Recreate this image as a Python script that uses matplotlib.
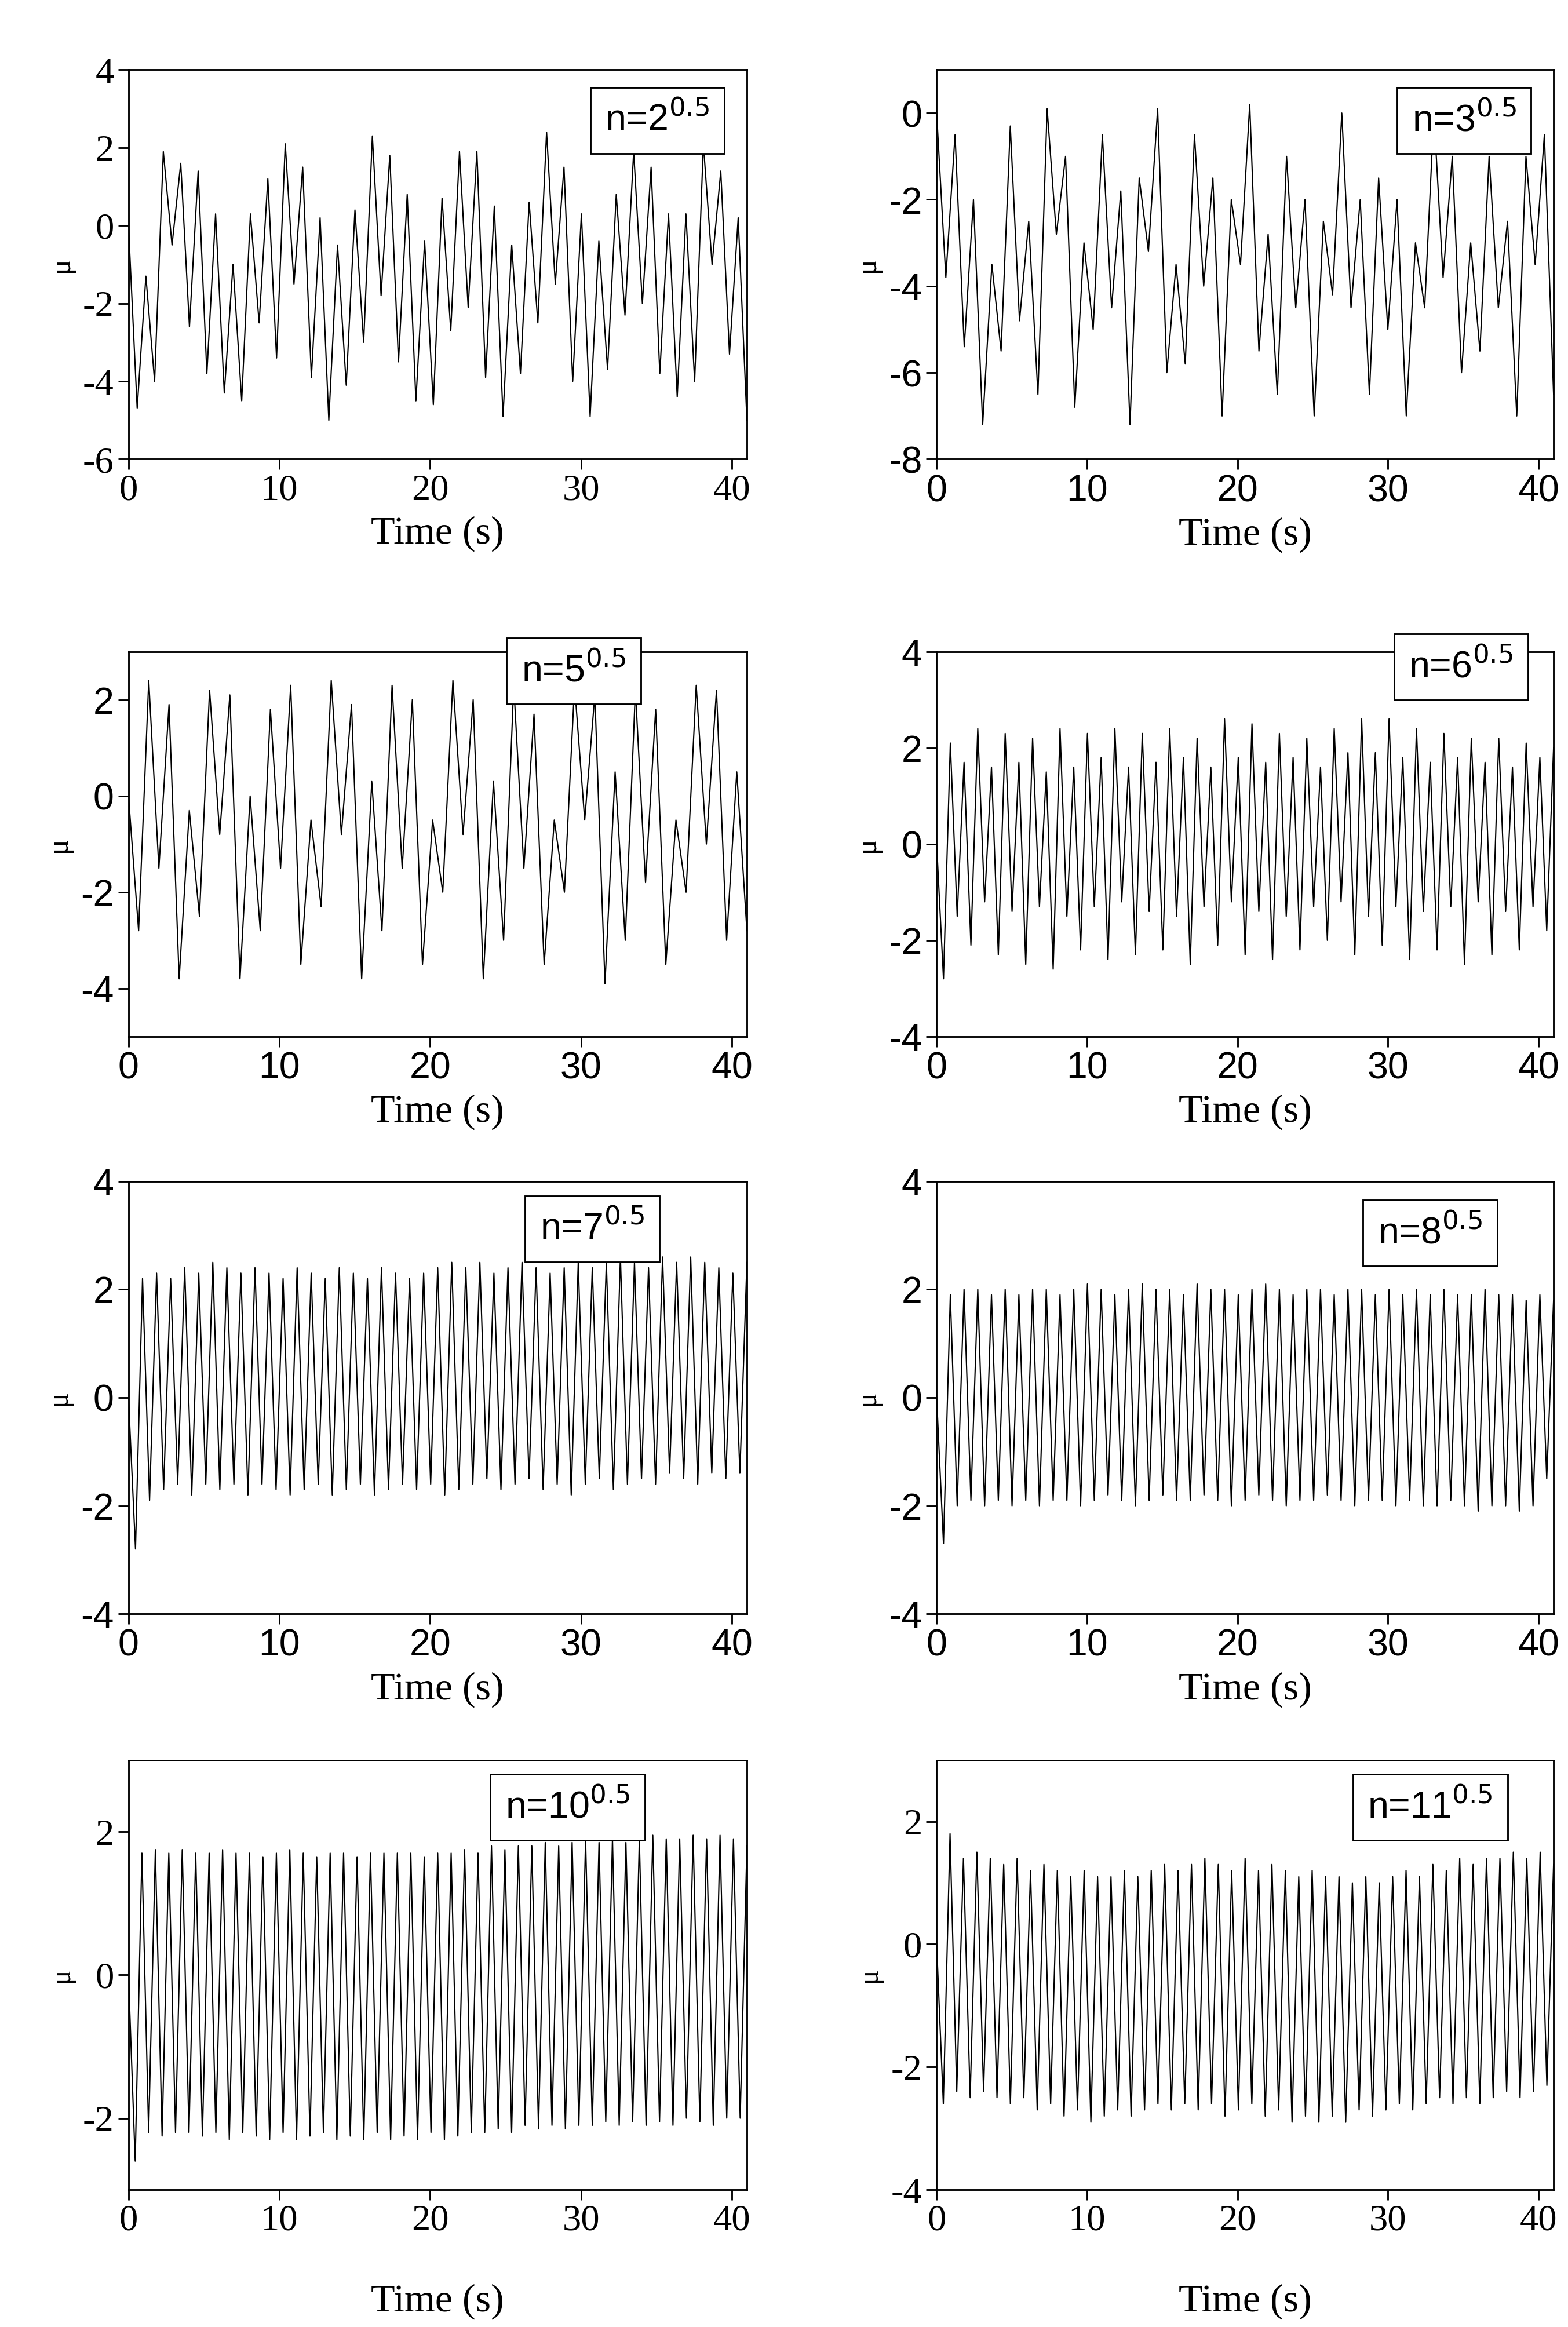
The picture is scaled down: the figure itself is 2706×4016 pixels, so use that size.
import numpy as np
import matplotlib
matplotlib.use('Agg')
import matplotlib.pyplot as plt

plt.rcParams['axes.unicode_minus'] = False

# extrema (alternating), spread evenly over 0..41 s
mu_2 = [0,-4.7,-1.3,-4.0,1.9,-0.5,1.6,-2.6,1.4,-3.8,0.3,-4.3,-1.0,-4.5,0.3,-2.5,1.2,-3.4,2.1,-1.5,1.5,-3.9,0.2,-5.0,
        -0.5,-4.1,0.4,-3.0,2.3,-1.8,1.8,-3.5,0.8,-4.5,-0.4,-4.6,0.7,-2.7,1.9,-2.1,1.9,-3.9,0.5,-4.9,-0.5,-3.8,0.6,-2.5,
        2.4,-1.5,1.5,-4.0,0.3,-4.9,-0.4,-3.7,0.8,-2.3,1.9,-2.0,1.5,-3.8,0.3,-4.4,0.3,-4.0,2.1,-1.0,1.4,-3.3,0.2,-5.0]
mu_3 = [0,-3.8,-0.5,-5.4,-2.0,-7.2,-3.5,-5.5,-0.3,-4.8,-2.5,-6.5,0.1,-2.8,-1.0,-6.8,-3.0,-5.0,-0.5,-4.5,-1.8,-7.2,
        -1.5,-3.2,0.1,-6.0,-3.5,-5.8,-0.5,-4.0,-1.5,-7.0,-2.0,-3.5,0.2,-5.5,-2.8,-6.5,-1.0,-4.5,-2.0,-7.0,-2.5,-4.2,
        0.0,-4.5,-2.0,-6.5,-1.5,-5.0,-2.0,-7.0,-3.0,-4.5,0.0,-3.8,-1.0,-6.0,-3.0,-5.5,-1.0,-4.5,-2.5,-7.0,-1.0,-3.5,-0.5,-6.5]
mu_5 = [0,-2.8,2.4,-1.5,1.9,-3.8,-0.3,-2.5,2.2,-0.8,2.1,-3.8,0.0,-2.8,1.8,-1.5,2.3,-3.5,-0.5,-2.3,2.4,-0.8,1.9,-3.8,
        0.3,-2.8,2.3,-1.5,2.0,-3.5,-0.5,-2.0,2.4,-0.8,2.0,-3.8,0.3,-3.0,2.3,-1.5,1.7,-3.5,-0.5,-2.0,2.3,-0.5,2.1,-3.9,
        0.5,-3.0,2.2,-1.8,1.8,-3.5,-0.5,-2.0,2.3,-1.0,2.2,-3.0,0.5,-2.8]

peaks_6 = [2.1,1.7,2.4,1.6,2.3,1.7,2.2,1.5,2.4,1.6,2.3,1.8,2.4,1.6,2.3,1.7,2.4,1.8,2.2,1.6,2.6,1.8,2.5,1.7,2.3,1.8,
           2.2,1.6,2.4,1.9,2.6,1.9,2.6,1.8,2.4,1.7,2.3,1.8,2.2,1.7,2.2,1.6,2.1,1.8,2.0]
troughs_6 = [-2.8,-1.5,-2.1,-1.2,-2.3,-1.4,-2.5,-1.3,-2.6,-1.5,-2.2,-1.3,-2.4,-1.2,-2.3,-1.4,-2.2,-1.5,-2.5,-1.3,-2.1,
             -1.2,-2.3,-1.4,-2.4,-1.5,-2.2,-1.3,-2.0,-1.2,-2.3,-1.5,-2.1,-1.3,-2.4,-1.4,-2.2,-1.3,-2.5,-1.2,-2.3,-1.4,-2.2,-1.3,-1.8]
peaks_7 = [2.2,2.3,2.2,2.4,2.3,2.5,2.4,2.3,2.4,2.3,2.2,2.4,2.3,2.2,2.4,2.3,2.2,2.4,2.3,2.2,2.3,2.4,2.5,2.4,2.5,2.3,
           2.4,2.5,2.4,2.3,2.4,2.5,2.4,2.5,2.6,2.5,2.4,2.6,2.5,2.6,2.5,2.4,2.3,2.5]
troughs_7 = [-2.8,-1.9,-1.7,-1.6,-1.8,-1.6,-1.7,-1.6,-1.8,-1.6,-1.7,-1.8,-1.7,-1.6,-1.8,-1.7,-1.6,-1.8,-1.7,-1.6,-1.7,
             -1.6,-1.8,-1.7,-1.6,-1.5,-1.7,-1.6,-1.5,-1.7,-1.6,-1.8,-1.6,-1.5,-1.7,-1.6,-1.5,-1.6,-1.4,-1.5,-1.6,-1.4,-1.5,-1.4]
peaks_8 = [1.9,2.0,2.0,1.9,2.0,1.9,2.0,2.0,1.9,2.0,2.1,2.0,1.9,2.0,2.1,2.0,2.0,1.9,2.1,2.0,2.0,1.9,2.0,2.1,2.0,1.9,
           2.0,2.0,1.9,2.0,2.0,1.9,2.0,1.9,2.0,1.9,2.0,1.9,1.9,2.0,1.9,1.9,1.8,1.9,1.8]
troughs_8 = [-2.7,-2.0,-1.9,-2.0,-1.9,-2.0,-1.9,-2.0,-1.9,-1.9,-2.0,-1.9,-1.8,-1.9,-2.0,-1.9,-1.8,-1.9,-1.9,-1.8,-1.9,
             -2.0,-1.9,-1.8,-1.9,-2.0,-1.9,-1.9,-1.8,-1.9,-2.0,-1.9,-1.9,-2.0,-1.9,-2.0,-2.0,-1.9,-2.0,-2.1,-2.0,-2.0,-2.1,-2.0,-1.5]
peaks_10 = [1.7,1.75,1.7,1.75,1.7,1.7,1.75,1.7,1.7,1.65,1.7,1.75,1.7,1.65,1.7,1.7,1.65,1.7,1.7,1.7,1.7,1.65,1.7,1.7,
            1.75,1.7,1.8,1.75,1.8,1.8,1.85,1.8,1.85,1.9,1.85,1.9,1.85,1.9,1.95,1.9,1.9,1.95,1.9,1.95,1.9,1.8]
troughs_10 = [-2.6,-2.2,-2.25,-2.2,-2.2,-2.25,-2.2,-2.3,-2.2,-2.25,-2.3,-2.2,-2.3,-2.25,-2.2,-2.3,-2.25,-2.3,-2.2,-2.3,
              -2.25,-2.3,-2.2,-2.3,-2.25,-2.2,-2.2,-2.15,-2.2,-2.1,-2.15,-2.1,-2.15,-2.1,-2.1,-2.05,-2.1,-2.05,-2.1,-2.05,
              -2.1,-2.0,-2.05,-2.1,-2.0,-2.0]
peaks_11 = [1.8,1.4,1.5,1.4,1.3,1.4,1.2,1.3,1.2,1.1,1.2,1.1,1.1,1.2,1.1,1.2,1.3,1.2,1.3,1.4,1.3,1.2,1.4,1.2,1.3,1.2,
            1.1,1.2,1.1,1.1,1.0,1.1,1.0,1.1,1.2,1.1,1.3,1.2,1.4,1.3,1.4,1.4,1.5,1.4,1.5,1.3]
troughs_11 = [-2.6,-2.4,-2.5,-2.4,-2.5,-2.6,-2.5,-2.7,-2.6,-2.8,-2.7,-2.9,-2.8,-2.7,-2.8,-2.7,-2.6,-2.7,-2.6,-2.7,-2.6,
              -2.8,-2.7,-2.6,-2.8,-2.7,-2.9,-2.8,-2.9,-2.8,-2.9,-2.7,-2.8,-2.7,-2.6,-2.7,-2.6,-2.5,-2.6,-2.5,-2.6,-2.5,
              -2.4,-2.5,-2.4,-2.3]


def interleave(troughs, peaks):
    out = [0.0]
    for a, b in zip(troughs, peaks):
        out += [a, b]
    return out


series = [mu_2, mu_3, mu_5, interleave(troughs_6, peaks_6), interleave(troughs_7, peaks_7),
          interleave(troughs_8, peaks_8), interleave(troughs_10, peaks_10), interleave(troughs_11, peaks_11)]
labels = ['2', '3', '5', '6', '7', '8', '10', '11']
ylims = [(-6, 4), (-8, 1), (-5, 3), (-4, 4), (-4, 4), (-4, 4), (-3, 3), (-4, 3)]
yticks = [range(-6, 5, 2), range(-8, 1, 2), range(-4, 3, 2), range(-4, 5, 2), range(-4, 5, 2),
          range(-4, 5, 2), range(-2, 3, 2), range(-4, 3, 2)]
boxpos = [(0.855, 0.87), (0.855, 0.87), (0.72, 0.95), (0.85, 0.96), (0.75, 0.89), (0.80, 0.88), (0.71, 0.89), (0.80, 0.89)]
tickfont = ['Liberation Serif', 'Liberation Sans', 'Liberation Sans', 'Liberation Sans',
            'Liberation Sans', 'Liberation Sans', 'Liberation Serif', 'Liberation Serif']
xlabpad = [4, 4, 4, 4, 4, 4, 22, 22]

W, H = 1050.0, 1560.0
col_x = [(86, 500), (627, 1040)]
row_y = [(47, 308), (437, 695), (792, 1082), (1180, 1468)]

fig = plt.figure(figsize=(10.5, 15.58), dpi=257.8)
for i in range(8):
    r, c = divmod(i, 2)
    x0, x1 = col_x[c]
    y0, y1 = row_y[r]
    ax = fig.add_axes([x0 / W, 1 - y1 / H, (x1 - x0) / W, (y1 - y0) / H])
    y = series[i]
    t = np.linspace(0, 41, len(y))
    ax.plot(t, y, color='black', lw=0.6)
    ax.set_xlim(0, 41)
    ax.set_ylim(*ylims[i])
    ax.set_xticks(range(0, 41, 10))
    ax.set_yticks(list(yticks[i]))
    ax.tick_params(labelsize=18, direction='out', length=5, pad=2)
    for lab in ax.get_xticklabels() + ax.get_yticklabels():
        lab.set_family(tickfont[i])
    ax.set_xlabel('Time (s)', family='Liberation Serif', fontsize=19, labelpad=xlabpad[i])
    ax.set_ylabel('μ', family='Liberation Serif', fontsize=14)
    ax.text(boxpos[i][0], boxpos[i][1], 'n=' + labels[i] + r'$^{0.5}$', transform=ax.transAxes,
            ha='center', va='center', fontsize=18, family='Liberation Sans',
            bbox=dict(boxstyle='square,pad=0.4', fc='white', ec='black', lw=0.8))

fig.savefig('out.png', dpi=257.8)
